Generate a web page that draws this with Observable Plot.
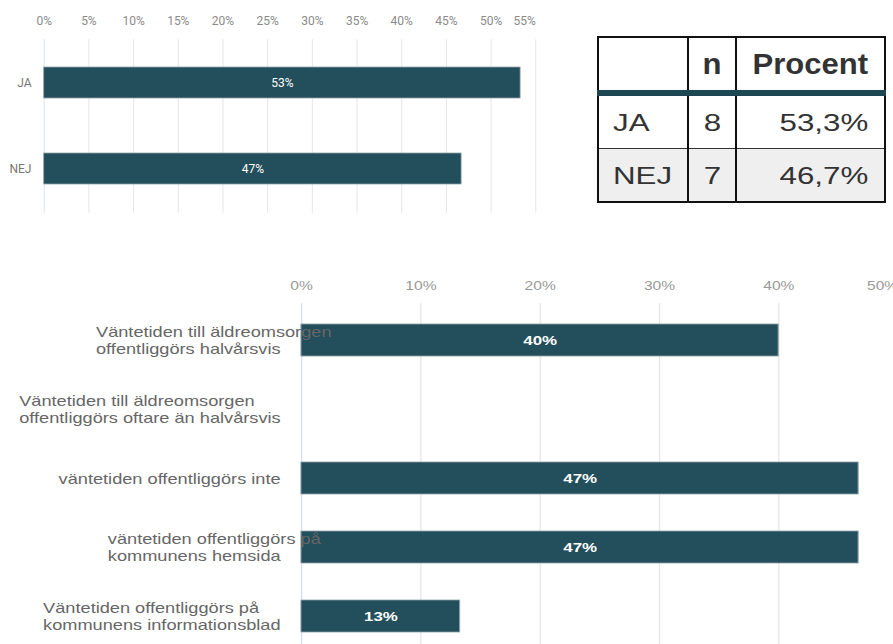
<!DOCTYPE html>
<html><head><meta charset="utf-8">
<script src="https://cdn.jsdelivr.net/npm/d3@7"></script>
<script src="https://cdn.jsdelivr.net/npm/@observablehq/plot@0.6"></script>
<style>
html,body{margin:0;padding:0;background:#fff;overflow:hidden;width:893px;height:644px;}
#top{position:absolute;left:0;top:0;}
#tbl{position:absolute;left:597px;top:36px;}
#bottom{position:absolute;left:0;top:250px;transform:scaleX(1.3);transform-origin:0 0;}
#tbl table{border-collapse:collapse;table-layout:fixed;width:287px;border:2px solid #111;font-family:"Liberation Sans",Arial,sans-serif;color:#333;}
#tbl th,#tbl td{border-left:2px solid #111;border-right:2px solid #111;height:52px;padding:0 14px;white-space:nowrap;overflow:visible;}
#tbl th{font-weight:bold;font-size:29px;border-bottom:6px solid #1c4753;}
#tbl td{font-size:23px;height:49px;padding-top:3px;}
#tbl tr.r2 td{background:#efefef;border-top:1px solid #333;}
#tbl span{display:inline-block;}
#tbl td span{transform:scaleX(1.36);}
#tbl th span{transform:scaleX(1.07);}
#tbl .c1{text-align:left;} #tbl .c1 span{transform-origin:left center;}
#tbl .c2{text-align:center;padding-left:0;padding-right:0;} #tbl .c2 span{transform-origin:center center;}
#tbl .c3{text-align:right;padding-right:16px;} #tbl .c3 span{transform-origin:right center;}
</style></head><body>
<div id="top"></div><div id="tbl"></div><div id="bottom"></div>
<script>
// ---- data ----
const answers = ["JA", "NEJ"];
const answerCounts = [8, 7];
const answerPercent = [53.3, 46.7];
const topTicks = [0, 5, 10, 15, 20, 25, 30, 35, 40, 45, 50, 55];

const statements = [
  "Väntetiden till äldreomsorgen\noffentliggörs halvårsvis",
  "Väntetiden till äldreomsorgen\noffentliggörs oftare än halvårsvis",
  "väntetiden offentliggörs inte",
  "väntetiden offentliggörs på\nkommunens hemsida",
  "Väntetiden offentliggörs på\nkommunens informationsblad"
];
const statementPercent = [40, 0, 46.7, 46.7, 13.3];
const bottomTicks = [0, 10, 20, 30, 40, 50];

const tableHeader = ["", "n", "Procent"];

// ---- top chart ----
const topData = answers.map((a, i) => ({answer: a, n: answerCounts[i], pct: answerPercent[i]}));
const pctFmt = d => d + "%";
const topPlot = Plot.plot({
  width: 560, height: 220,
  marginLeft: 43.7, marginRight: 24.7, marginTop: 39.3, marginBottom: 7.3,
  style: {fontFamily: "Roboto, sans-serif", fontSize: "12px", background: "transparent", overflow: "visible"},
  x: {domain: [0, 55]},
  y: {domain: answers, paddingInner: 0.634, paddingOuter: 0.323},
  marks: [
    Plot.gridX(topTicks.filter(d => d > 0), {stroke: "#e6e6e6", strokeOpacity: 1}),
    Plot.gridX(topTicks.filter(d => d === 0), {stroke: "#dbe1f0", strokeOpacity: 1}),
    Plot.barX(topData, {x: "pct", y: "answer", fill: "#234e5b", stroke: "#8fa4ab", strokeWidth: 0.8}),
    Plot.text(topData, Plot.stackX({x: "pct", y: "answer", text: d => Math.round(d.pct) + "%", fill: "white", fontSize: 12})),
    Plot.axisX(topTicks.slice(0, -1), {anchor: "top", label: null, tickSize: 0, tickPadding: 14.5, tickFormat: pctFmt, fill: "#8a8a8a"}),
    Plot.axisX(topTicks.slice(-1), {anchor: "top", label: null, tickSize: 0, tickPadding: 14.5, tickFormat: pctFmt, fill: "#8a8a8a", textAnchor: "end"}),
    Plot.axisY({label: null, tickSize: 0, tickPadding: 12.7, fill: "#777", fontSize: 12})
  ]
});
document.getElementById("top").append(topPlot);

// ---- table ----
const fmtComma = v => v.toFixed(1).replace(".", ",") + "%";
const tbl = document.createElement("table");
tbl.innerHTML =
  `<colgroup><col style="width:90px"><col style="width:48px"><col style="width:149px"></colgroup>` +
  `<tr><th class="c1"><span>${tableHeader[0]}</span></th><th class="c2"><span>${tableHeader[1]}</span></th><th class="c3"><span>${tableHeader[2]}</span></th></tr>` +
  topData.map((d, i) => `<tr class="r${i + 1}"><td class="c1"><span>${d.answer}</span></td><td class="c2"><span>${d.n}</span></td><td class="c3"><span>${fmtComma(d.pct)}</span></td></tr>`).join("");
document.getElementById("tbl").append(tbl);

// ---- bottom chart ----
const bottomData = statements.map((s, i) => ({statement: s, pct: statementPercent[i]}));
const bottomPlot = Plot.plot({
  width: 720, height: 410,
  marginLeft: 231.5, marginRight: 29.6, marginTop: 53.3, marginBottom: 7.7,
  style: {fontFamily: "'Liberation Sans', Arial, sans-serif", fontSize: "12px", background: "transparent", overflow: "visible"},
  x: {domain: [0, 50]},
  y: {domain: statements, paddingInner: 0.53, paddingOuter: 0.29},
  marks: [
    Plot.gridX(bottomTicks.filter(d => d > 0), {stroke: "#e6e6e6", strokeOpacity: 1}),
    Plot.gridX(bottomTicks.filter(d => d === 0), {stroke: "#d6dcef", strokeOpacity: 1}),
    Plot.barX(bottomData.filter(d => d.pct > 0), {x: "pct", y: "statement", fill: "#234e5b", stroke: "#8fa4ab", strokeWidth: 0.8}),
    Plot.text(bottomData.filter(d => d.pct > 0), Plot.stackX({x: "pct", y: "statement", text: d => Math.round(d.pct) + "%", fill: "white", fontSize: 13, fontWeight: "bold"})),
    Plot.axisY({label: null, tickSize: 0, tickPadding: 16.15, fill: "#666", fontSize: 14, lineHeight: 1.2}),
    Plot.axisX(bottomTicks.slice(0, -1), {anchor: "top", label: null, tickSize: 0, tickPadding: 13.5, tickFormat: pctFmt, fill: "#999"}),
    Plot.axisX(bottomTicks.slice(-1), {anchor: "top", label: null, tickSize: 0, tickPadding: 13.5, tickFormat: pctFmt, fill: "#999", textAnchor: "end"})
  ]
});
document.getElementById("bottom").append(bottomPlot);

// multi-line labels: lines left-aligned, block placed by the width of its last line
bottomPlot.querySelectorAll('[aria-label="y-axis tick label"] text').forEach(t => {
  const spans = t.querySelectorAll("tspan");
  if (spans.length < 2) return;
  const w = spans[spans.length - 1].getComputedTextLength();
  t.setAttribute("text-anchor", "start");
  spans.forEach(sp => sp.setAttribute("x", (+sp.getAttribute("x") || 0) - w));
});
</script>
</body></html>
